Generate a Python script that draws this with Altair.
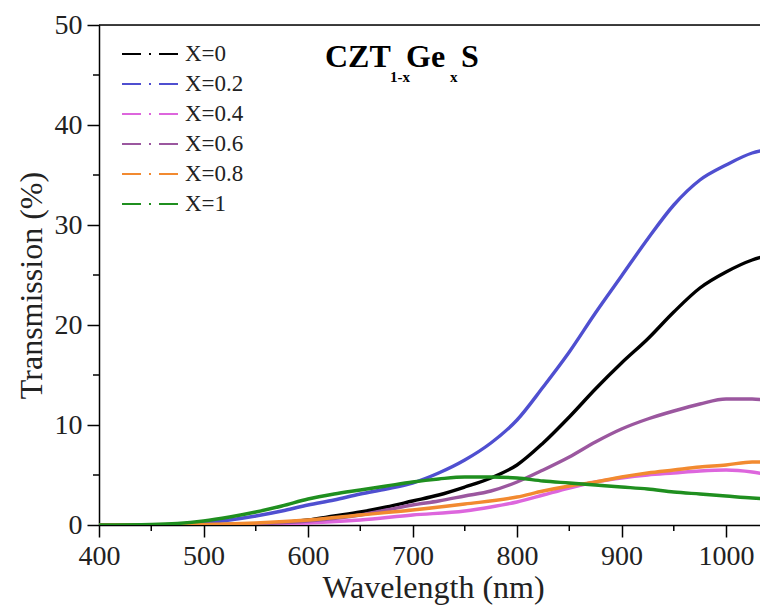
import altair as alt
import pandas as pd

series_names = ["X=0", "X=0.2", "X=0.4", "X=0.6", "X=0.8", "X=1"]
series_colors = ["#000000", "#4f4fd0", "#dd66dd", "#9b579f", "#f28a30", "#1f8f1f"]

wl_x0 = [400, 450, 500, 550, 600, 625, 650, 675, 700, 725, 750, 775, 800, 825, 850, 875, 900, 925, 950, 975, 1000, 1025, 1042]
t_x0 = [0.0, 0.0, 0.05, 0.1, 0.5, 0.9, 1.3, 1.8, 2.4, 3.0, 3.8, 4.7, 6.0, 8.2, 10.8, 13.6, 16.2, 18.6, 21.3, 23.7, 25.3, 26.5, 27.0]

wl_x02 = [400, 450, 500, 525, 550, 575, 600, 625, 650, 675, 700, 725, 750, 775, 800, 825, 850, 875, 900, 925, 950, 975, 1000, 1025, 1042]
t_x02 = [0.0, 0.0, 0.2, 0.5, 0.9, 1.4, 2.0, 2.5, 3.1, 3.6, 4.2, 5.2, 6.5, 8.2, 10.5, 13.8, 17.3, 21.2, 24.9, 28.6, 32.0, 34.5, 36.0, 37.2, 37.6]

wl_x04 = [400, 500, 550, 600, 650, 700, 750, 775, 800, 825, 850, 875, 900, 925, 950, 975, 1000, 1025, 1042]
t_x04 = [0.0, 0.0, 0.05, 0.2, 0.5, 1.0, 1.4, 1.8, 2.3, 3.0, 3.7, 4.3, 4.7, 5.0, 5.2, 5.4, 5.5, 5.3, 5.0]

wl_x06 = [400, 500, 550, 600, 650, 675, 700, 725, 750, 775, 800, 825, 850, 875, 900, 925, 950, 975, 1000, 1025, 1042]
t_x06 = [0.0, 0.0, 0.1, 0.4, 1.0, 1.5, 2.0, 2.4, 2.9, 3.4, 4.3, 5.5, 6.8, 8.3, 9.6, 10.6, 11.4, 12.1, 12.6, 12.6, 12.4]

wl_x08 = [400, 500, 550, 600, 650, 700, 750, 800, 825, 850, 875, 900, 925, 950, 975, 1000, 1025, 1042]
t_x08 = [0.0, 0.05, 0.2, 0.5, 1.0, 1.5, 2.1, 2.8, 3.4, 3.9, 4.3, 4.8, 5.2, 5.5, 5.8, 6.0, 6.3, 6.3]

wl_x1 = [400, 450, 475, 500, 525, 550, 575, 600, 625, 650, 675, 700, 725, 750, 775, 800, 825, 850, 875, 900, 925, 950, 975, 1000, 1025, 1042]
t_x1 = [0.0, 0.05, 0.15, 0.4, 0.8, 1.3, 1.9, 2.6, 3.1, 3.5, 3.9, 4.3, 4.6, 4.8, 4.8, 4.7, 4.4, 4.2, 4.0, 3.8, 3.6, 3.3, 3.1, 2.9, 2.7, 2.6]

x_ticks = [400, 500, 600, 700, 800, 900, 1000]
x_minor = [450, 550, 650, 750, 850, 950]
y_ticks = [0, 10, 20, 30, 40, 50]
y_minor = [5, 15, 25, 35, 45]

title_parts = ["CZT", "1-x", "Ge", "x", "S"]

all_series = [(series_names[0], wl_x0, t_x0), (series_names[1], wl_x02, t_x02),
              (series_names[2], wl_x04, t_x04), (series_names[3], wl_x06, t_x06),
              (series_names[4], wl_x08, t_x08), (series_names[5], wl_x1, t_x1)]
rows = []
for name, wls, ts in all_series:
    for w, t in zip(wls, ts):
        rows.append({"series": name, "wl": w, "t": t})
df = pd.DataFrame(rows)

legend_df = pd.DataFrame({"series": series_names, "idx": list(range(len(series_names)))})

W, H = 661, 500
FONT = "Liberation Serif"
x_scale = alt.Scale(domain=[400, 1032.5], nice=False, zero=False)
y_scale = alt.Scale(domain=[0, 50], nice=False, zero=False)
color_scale = alt.Scale(domain=series_names, range=series_colors)

x_axis = alt.Axis(title="Wavelength (nm)", values=x_ticks, format="d",
                  labelFont=FONT, labelFontSize=28, labelColor="#222",
                  titleFont=FONT, titleFontSize=32, titleFontWeight="normal", titleColor="#222",
                  titleBaseline="alphabetic", titleY=72, titleX=334,
                  tickSize=12, tickWidth=1.5, tickColor="black", domainColor="black",
                  domainWidth=1.5, labelPadding=5, grid=False, labelFlush=False)
y_axis = alt.Axis(title="Transmission (%)", values=y_ticks, format="d",
                  labelFont=FONT, labelFontSize=28, labelColor="#222",
                  titleFont=FONT, titleFontSize=32, titleFontWeight="normal", titleColor="#222",
                  titleBaseline="alphabetic", titleX=-58, titleY=260,
                  tickSize=12, tickWidth=1.5, tickColor="black", domainColor="black",
                  domainWidth=1.5, labelPadding=5, grid=False, labelFlush=False)

lines = alt.Chart(df).mark_line(strokeWidth=3.4, interpolate="monotone", clip=True).encode(
    x=alt.X("wl:Q", scale=x_scale, axis=x_axis),
    y=alt.Y("t:Q", scale=y_scale, axis=y_axis),
    color=alt.Color("series:N", sort=series_names, scale=color_scale, legend=None),
    detail="series:N",
)

ymin_df = pd.DataFrame({"v": y_minor})
ymin = alt.Chart(ymin_df).mark_rule(color="black", strokeWidth=1.5).encode(
    y=alt.Y("v:Q", scale=y_scale, axis=y_axis), x=alt.value(-6), x2=alt.value(0))

xmin_df = pd.DataFrame({"v": x_minor})
xmin = alt.Chart(xmin_df).mark_rule(color="black", strokeWidth=1.5).encode(
    x=alt.X("v:Q", scale=x_scale, axis=x_axis), y=alt.value(H), y2=alt.value(H + 6))

top_df = pd.DataFrame({"a": [0]})
top = alt.Chart(top_df).mark_rule(color="black", strokeWidth=1.5).encode(
    x=alt.value(0), x2=alt.value(W), y=alt.value(0))

leg_base = alt.Chart(legend_df).transform_calculate(py="29 + 30 * datum.idx")
leg_lines = leg_base.mark_rule(strokeWidth=2, strokeDash=[19, 8, 2, 8, 19]).encode(
    x=alt.value(23), x2=alt.value(79), y=alt.Y("py:Q", scale=None),
    color=alt.Color("series:N", scale=color_scale, legend=None))
leg_text = leg_base.mark_text(font=FONT, fontSize=23, align="left", baseline="middle",
                              color="#222").encode(
    x=alt.value(86), y=alt.Y("py:Q", scale=None), text="series:N")

def title_piece(i, x, y, size):
    d = pd.DataFrame({"txt": [title_parts[i]]})
    return alt.Chart(d).mark_text(font=FONT, fontWeight="bold", fontSize=size, align="left",
                                  baseline="alphabetic", color="black").encode(
        text="txt:N", x=alt.value(x), y=alt.value(y))

titles = [title_piece(0, 226, 42, 32), title_piece(1, 291, 57, 15), title_piece(2, 307, 42, 32),
          title_piece(3, 351, 57, 15), title_piece(4, 362, 42, 32)]

chart = alt.layer(lines, ymin, xmin, top, leg_lines, leg_text, *titles).properties(
    width=W, height=H,
    autosize=alt.AutoSizeParams(type="none"),
    padding={"left": 91, "top": 17, "right": 0, "bottom": 90},
).configure_view(strokeWidth=0).configure(background="white")

chart.save("out.html", embed_options={"renderer": "svg", "actions": False})
